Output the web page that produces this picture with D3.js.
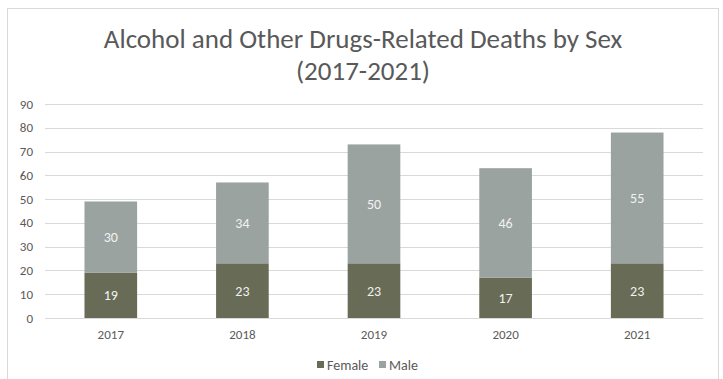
<!DOCTYPE html>
<html>
<head>
<meta charset="utf-8">
<script src="https://cdn.jsdelivr.net/npm/d3@7"></script>
<style>
  body { margin: 0; background: #fff; }
  text { font-family: Carlito, Calibri, "Open Sans", sans-serif; }
</style>
</head>
<body>
<div id="chart"></div>
<script>
var width = 723
var height = 379

var years = ['2017', '2018', '2019', '2020', '2021']
var female = [19, 23, 23, 17, 23]
var male = [30, 34, 50, 46, 55]
var yTicks = [0, 10, 20, 30, 40, 50, 60, 70, 80, 90]
var seriesNames = ['Female', 'Male']
var colors = ['#686b55', '#9aa3a0']

var margin = { top: 104, right: 20, bottom: 61, left: 45 }

var svg = d3.select('#chart').append('svg')
    .attr('width', width)
    .attr('height', height)

// chart frame
svg.append('rect')
    .attr('x', 7.5)
    .attr('y', 8.5)
    .attr('width', 711)
    .attr('height', 380)
    .attr('fill', '#fff')
    .attr('stroke', '#d9d9d9')

var x = d3.scaleBand()
    .domain(years)
    .range([margin.left, width - margin.right])
    .paddingInner(0.6)
    .paddingOuter(0.3)

var y = d3.scaleLinear()
    .domain([0, 90])
    .range([height - margin.bottom, margin.top])

// gridlines
svg.append('g')
    .selectAll('line')
    .data(yTicks)
    .enter().append('line')
    .attr('x1', margin.left)
    .attr('x2', width - margin.right)
    .attr('y1', function(d) { return Math.round(y(d)) + 0.5 })
    .attr('y2', function(d) { return Math.round(y(d)) + 0.5 })
    .attr('stroke', '#d9d9d9')
    .attr('stroke-width', 1)

// y labels
svg.append('g')
    .selectAll('text')
    .data(yTicks)
    .enter().append('text')
    .attr('x', 33)
    .attr('y', function(d) { return y(d) })
    .attr('dy', '.35em')
    .attr('text-anchor', 'end')
    .attr('font-size', 13)
    .attr('fill', '#595959')
    .text(function(d) { return d })

var rows = years.map(function(yr, i) {
    return { year: yr, Female: female[i], Male: male[i] }
})
var stacked = d3.stack().keys(seriesNames)(rows)

var groups = svg.append('g')
    .selectAll('g')
    .data(stacked)
    .enter().append('g')
    .attr('fill', function(d, i) { return colors[i] })

groups.selectAll('rect')
    .data(function(d) { return d })
    .enter().append('rect')
    .attr('x', function(d) { return x(d.data.year) })
    .attr('width', x.bandwidth())
    .attr('y', function(d) { return y(d[1]) })
    .attr('height', function(d) { return y(d[0]) - y(d[1]) })

groups.selectAll('text')
    .data(function(d) { return d })
    .enter().append('text')
    .attr('x', function(d) { return x(d.data.year) + x.bandwidth() / 2 })
    .attr('y', function(d) { return (y(d[0]) + y(d[1])) / 2 })
    .attr('dy', '.35em')
    .attr('text-anchor', 'middle')
    .attr('font-size', 14)
    .attr('fill', '#f2f2f2')
    .text(function(d) { return d[1] - d[0] })

// x labels
svg.append('g')
    .selectAll('text')
    .data(years)
    .enter().append('text')
    .attr('x', function(d) { return x(d) + x.bandwidth() / 2 })
    .attr('y', 334)
    .attr('dy', '.35em')
    .attr('text-anchor', 'middle')
    .attr('font-size', 13)
    .attr('fill', '#595959')
    .text(function(d) { return d })

// title
var title = svg.append('text')
    .attr('x', 363)
    .attr('text-anchor', 'middle')
    .attr('font-size', 27)
    .attr('fill', '#595959')
title.append('tspan').attr('x', 363).attr('y', 48)
    .text('Alcohol and Other Drugs-Related Deaths by Sex')
title.append('tspan').attr('x', 363).attr('y', 80)
    .text('(2017-2021)')

// legend
var legend = svg.append('g')
var lx = [317, 379]
seriesNames.forEach(function(name, i) {
    legend.append('rect')
        .attr('x', lx[i])
        .attr('y', 361)
        .attr('width', 7)
        .attr('height', 7)
        .attr('fill', colors[i])
    legend.append('text')
        .attr('x', lx[i] + 10)
        .attr('y', 365)
        .attr('dy', '.35em')
        .attr('font-size', 14)
        .attr('fill', '#595959')
        .text(name)
})
</script>
</body>
</html>
